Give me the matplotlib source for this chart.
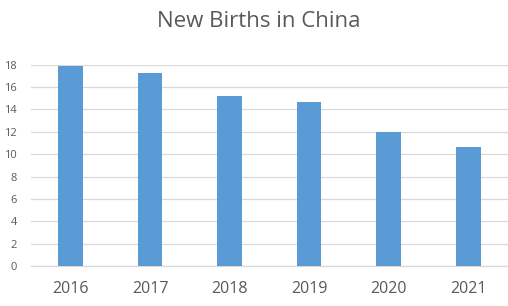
import matplotlib
matplotlib.use("Agg")
import matplotlib.pyplot as plt

years = ["2016", "2017", "2018", "2019", "2020", "2021"]
births = [17.86, 17.23, 15.23, 14.65, 12.02, 10.62]
y_ticks = [0, 2, 4, 6, 8, 10, 12, 14, 16, 18]

plt.rcParams["font.family"] = ["Open Sans", "DejaVu Sans"]

fig = plt.figure(figsize=(5.08, 3.06), dpi=100)
ax = fig.add_axes([0.0604, 0.1307, 0.9396, 0.6579])

x = range(len(years))
ax.bar(x, births, width=0.31, color="#5b9bd5", zorder=3)

ax.set_xlim(-0.5, len(years) - 0.5)
ax.set_ylim(0, 18)
ax.set_yticks(y_ticks)
ax.set_xticks(list(x))
ax.set_xticklabels(years)

ax.grid(axis="y", color="#d9d9d9", linewidth=0.9, zorder=0)
ax.set_axisbelow(True)
for side in ["top", "right", "left"]:
    ax.spines[side].set_visible(False)
ax.spines["bottom"].set_color("#d9d9d9")
ax.spines["bottom"].set_linewidth(0.9)

ax.tick_params(axis="y", length=0, labelsize=8, labelcolor="#595959", pad=10)
ax.tick_params(axis="x", length=0, labelsize=11.5, labelcolor="#595959", pad=11)

fig.text(0.51, 0.93, "New Births in China", ha="center", va="center",
         fontsize=16, color="#595959")

fig.savefig("out.png", dpi=100)
